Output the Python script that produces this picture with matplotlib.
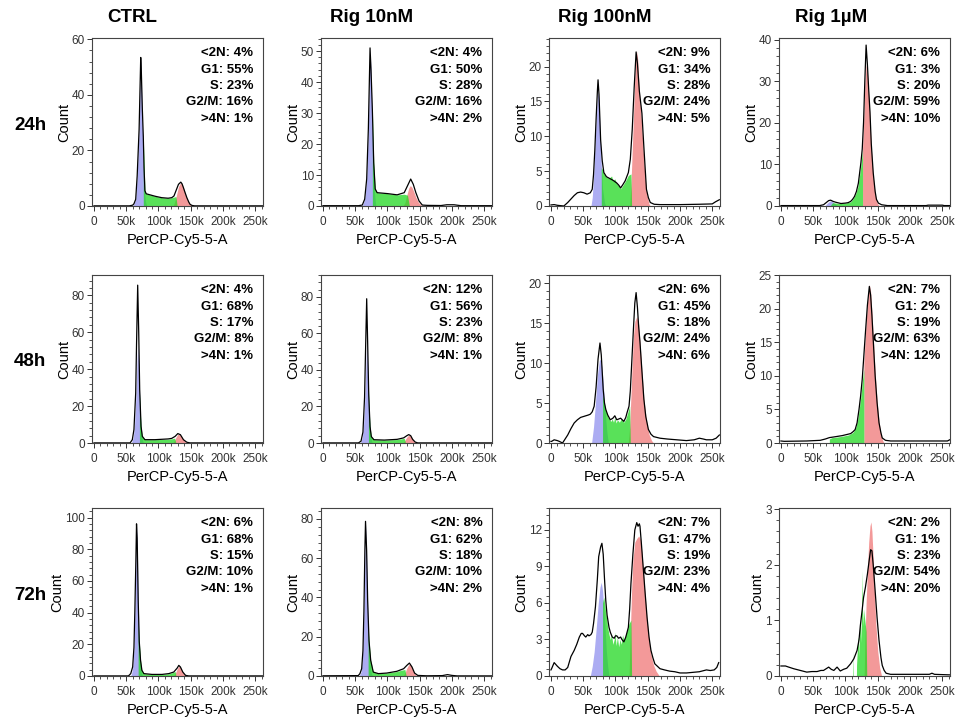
import matplotlib
matplotlib.use("Agg")
import matplotlib.pyplot as plt
from matplotlib.ticker import MultipleLocator, AutoMinorLocator

plt.rcParams["font.family"] = ["Liberation Sans", "DejaVu Sans"]

columns = ["CTRL", "Rig 10nM", "Rig 100nM", "Rig 1µM"]
rows = ["24h", "48h", "72h"]
phase_names = ["<2N", "G1", "S", "G2/M", ">4N"]
x_ticks = [0, 50, 100, 150, 200, 250]
x_tick_labels = ["0", "50k", "100k", "150k", "200k", "250k"]

# phase percentages, same order as phase_names
ctrl_24h_pct = [4, 55, 23, 16, 1]
rig10_24h_pct = [4, 50, 28, 16, 2]
rig100_24h_pct = [9, 34, 28, 24, 5]
rig1u_24h_pct = [6, 3, 20, 59, 10]
ctrl_48h_pct = [4, 68, 17, 8, 1]
rig10_48h_pct = [12, 56, 23, 8, 1]
rig100_48h_pct = [6, 45, 18, 24, 6]
rig1u_48h_pct = [7, 2, 19, 63, 12]
ctrl_72h_pct = [6, 68, 15, 10, 1]
rig10_72h_pct = [8, 62, 18, 10, 2]
rig100_72h_pct = [7, 47, 19, 23, 4]
rig1u_72h_pct = [2, 1, 23, 54, 20]

# histogram traces: (PerCP-Cy5-5-A in thousands, count)
ctrl_24h_line = [(0, 0.05), (55, 0.05), (60, 0.3), (62, 0.8), (64.7, 2.4), (67, 10.8), (70, 27.6),
                 (71.4, 42), (72.5, 53.5), (73.5, 48), (75, 35), (76.5, 25), (77.6, 14), (79, 5.5),
                 (81, 4.4), (84, 4.2), (95, 3.5), (105, 3.0), (115, 2.8), (120.6, 3.0), (124, 3.6),
                 (126, 4.8), (128.5, 6.3), (131, 7.8), (134.6, 8.6), (136.5, 8.0), (138.7, 6.6),
                 (141, 5), (144, 3), (147, 1.4), (149, 0.6), (152, 0.2), (156, 0.05), (262, 0.05)]
ctrl_24h_g1 = [(60, 0), (62, 0.8), (64.7, 2.4), (67, 10.8), (70, 27.6), (71.4, 42), (72.5, 53),
               (73.5, 46), (75, 30), (76.5, 15), (78, 6), (80, 1.5), (82, 0)]
ctrl_24h_s = [(76.5, 0), (76.5, 24), (78, 14), (79, 5.5), (81, 4.4), (84, 4.2), (95, 3.5), (105, 3.0),
              (115, 2.8), (120.6, 3.0), (124, 3.2), (127, 3.4), (129, 0)]
ctrl_24h_g2 = [(123, 0), (125, 1.5), (127, 3), (129, 5), (131, 7), (134.6, 8.5), (137, 7.8),
               (139, 6.4), (141, 4.8), (144, 2.8), (147, 1.3), (150, 0.4), (153, 0)]

rig10_24h_line = [(0, 0.1), (55, 0.1), (61, 0.3), (64.7, 2.2), (67.8, 8.7), (70.4, 25), (72, 41),
                  (73, 51), (74.5, 44), (76.6, 31), (78.7, 14), (81, 5.5), (84, 4.3), (100, 4.0),
                  (115, 3.6), (126, 4.3), (131, 6.5), (136, 8.7), (140, 7), (144, 4.3), (149, 1.6),
                  (154, 0.3), (162, 0.2), (183, 0.15), (192, 0.4), (203, 0.4), (214, 0.1), (262, 0.1)]
rig10_24h_g1 = [(61, 0), (64.7, 2.2), (67.8, 8.7), (70.4, 25), (72, 41), (73, 50.5), (74.5, 44),
                (76, 30), (78, 14), (80, 4), (82, 0)]
rig10_24h_s = [(76.6, 0), (76.6, 31), (78.7, 14), (81, 5.5), (84, 4.3), (100, 4.0), (115, 3.6),
               (126, 3.8), (131, 3.5), (134, 0)]
rig10_24h_g2 = [(124, 0), (127, 1), (130, 3.5), (133, 5.8), (135.5, 6.6), (138, 6), (141, 4.5),
                (144, 2.8), (148, 1.2), (152, 0.3), (155, 0)]

rig100_24h_line = [(0, 0.15), (5, 0.2), (10, 0.1), (20, 0.0), (26, 0.5), (31, 1.0), (36, 1.5),
                   (41, 1.9), (46, 2.0), (51, 1.9), (56, 1.7), (61, 1.9), (64, 2.4), (66, 4.5),
                   (68, 8), (70, 12.5), (72, 16.5), (73, 18.1), (74.5, 16), (77, 9.5), (79.5, 6.5),
                   (82, 4.8), (86, 4.2), (90, 4.0), (96, 3.7), (102, 3.3), (105, 3.0), (108, 2.6),
                   (111, 3.0), (115, 3.6), (120, 4.8), (123, 6.7), (126, 11), (129, 17), (132, 22.1),
                   (134, 20.5), (137, 16.5), (141, 13.3), (144, 8.5), (148, 2.4), (151, 1.2),
                   (154, 0.5), (160, 0.25), (169, 0.2), (200, 0.2), (230, 0.25), (250, 0.3),
                   (255, 0.6), (261, 0.9)]
rig100_24h_g1 = [(62, 0), (64, 1.2), (66, 4), (68, 8), (70, 12), (72, 15.5), (73, 16.5), (74.5, 15),
                 (76, 11), (78, 6), (80, 2.5), (83, 0.5), (85, 0)]
rig100_24h_s = [(78, 0), (78, 5.5), (80, 5.2), (82, 4.6), (86, 4.1), (90, 4.0), (94, 4.3), (96, 3.6),
                (99, 3.9), (102, 3.2), (105, 2.9), (108, 2.5), (111, 2.9), (115, 3.5), (120, 4.4),
                (124, 4.6), (125, 0)]
rig100_24h_g2 = [(122, 0), (124, 3), (126, 8), (128, 13), (130, 18.5), (132.5, 22.3), (134.5, 21),
                 (137, 16.5), (140, 12.5), (143, 8), (146, 4), (149, 1.5), (152, 0.3), (154, 0)]

rig1u_24h_line = [(0, 0.1), (60, 0.1), (66, 0.3), (70, 0.8), (74, 1.3), (77, 1.4), (81, 1.1),
                  (85, 0.9), (93, 0.6), (100, 0.7), (104, 0.8), (108, 1.1), (111, 1.6), (114, 2.3),
                  (117, 3.5), (120, 5.5), (122, 8), (124, 10.5), (126, 13.7), (128, 20), (130, 30),
                  (132, 38.7), (134, 34), (136, 28), (138, 22.6), (140, 15), (143, 8), (146, 3.5),
                  (148, 1.6), (151, 0.7), (156, 0.3), (165, 0.1), (225, 0.1), (228, 0.2),
                  (250, 0.2), (253, 0.1), (262, 0.1)]
rig1u_24h_g1 = [(68, 0), (72, 0.7), (76, 1.2), (79, 1.2), (83, 0.6), (88, 0)]
rig1u_24h_s = [(76, 0), (80, 0.8), (90, 0.6), (100, 0.7), (108, 1.0), (112, 1.8), (116, 3.0),
               (119, 4.5), (122, 7.5), (124, 10), (126.5, 13.5), (126.5, 0)]
rig1u_24h_g2 = [(126.5, 0), (126.5, 14), (128, 19.5), (130, 29), (132, 34), (134, 32), (136, 27),
                (138, 21), (140, 14), (143, 7), (146, 3), (149, 0.8), (152, 0)]

ctrl_48h_line = [(0, 0.05), (56, 0.05), (59.5, 1.8), (62, 7.3), (64.7, 27), (66, 53), (67.8, 85.5),
                 (69.4, 60), (70.9, 29), (73, 9), (75, 3.6), (79, 1.8), (94.7, 1.8), (115, 2.2),
                 (120.6, 2.5), (125.8, 3.6), (130, 5.1), (134, 4.5), (138.7, 1.8), (144, 0.4),
                 (149, 0.05), (262, 0.05)]
ctrl_48h_g1 = [(58, 0), (61, 3), (63, 10), (65, 25), (66.5, 42), (67.8, 53), (69, 45), (70.5, 30),
               (72, 15), (74, 4), (76, 0.5), (78, 0)]
ctrl_48h_s = [(70.5, 0), (70.5, 28), (72, 16), (73, 9), (75, 3.6), (79, 1.8), (95, 1.8), (115, 2.0),
              (121, 2.3), (125, 2.6), (127, 0)]
ctrl_48h_g2 = [(122, 0), (125, 1.5), (127, 3), (130, 4.7), (133, 4.5), (136, 3.2), (139, 1.6),
               (142, 0.5), (145, 0)]

rig10_48h_line = [(0, 0.05), (55, 0.05), (59, 1), (62, 6), (64.5, 25), (66, 50), (67.8, 79),
                  (69.3, 55), (71, 26), (73, 9), (75, 3.5), (79, 1.8), (95, 1.6), (115, 2.0),
                  (125, 2.8), (130, 4), (133, 4.6), (136, 4), (139, 2), (143, 0.5), (147, 0.05),
                  (262, 0.05)]
rig10_48h_g1 = [(58, 0), (61, 3), (63, 10), (65, 25), (66.5, 42), (67.8, 55), (69, 45), (70.5, 30),
                (72, 15), (74, 4), (76, 0.5), (78, 0)]
rig10_48h_s = [(70.5, 0), (70.5, 30), (72, 16), (73, 9), (75, 3.5), (79, 1.8), (95, 1.6), (115, 1.9),
               (122, 2.3), (126, 2.6), (128, 0)]
rig10_48h_g2 = [(124, 0), (127, 1.5), (130, 3.2), (133, 4.3), (136, 3.8), (139, 1.8), (142, 0.5),
                (145, 0)]

rig100_48h_line = [(0, 0.2), (1, 0.2), (5, 0.4), (10, 0.3), (13, 0.2), (18, 0.0), (22, 0.5), (26, 1.0),
                   (31, 1.8), (36, 2.5), (41, 2.9), (46, 3.2), (50, 3.3), (54, 3.4), (58, 3.5),
                   (61, 3.6), (64, 3.9), (67, 4.6), (70, 7), (73, 10.5), (76, 12.5), (78, 11),
                   (81, 6.7), (83, 5), (85, 4.2), (88, 3.5), (92, 2.9), (96, 3.1), (99, 3.4),
                   (102, 2.9), (105, 3.0), (108, 3.1), (113, 2.7), (116, 3.2), (118, 3.8), (121, 4.6),
                   (123, 6.5), (125, 9.7), (128, 14.5), (130, 17.5), (132, 18.8), (134, 17),
                   (136, 14.5), (138, 12.6), (141, 9), (144, 5.5), (147, 3.3), (151, 1.7), (155, 1.1),
                   (159, 0.8), (169, 0.6), (180, 0.5), (195, 0.4), (210, 0.3), (222, 0.4), (230, 0.6),
                   (236, 0.5), (241, 0.4), (250, 0.4), (256, 0.6), (261, 1.0)]
rig100_48h_g1 = [(63, 0), (66, 2), (69, 5), (72, 8.5), (75, 10.3), (77, 10.5), (79, 9.5), (81, 7.5),
                 (83, 5), (85, 3), (87, 1.2), (89, 0)]
rig100_48h_s = [(80, 0), (80, 6), (82, 5.3), (84, 4.4), (86, 3.8), (88, 3.3), (90, 3.0), (93, 2.7),
                (95, 3.0), (97, 2.6), (99, 3.2), (101, 2.5), (103, 2.9), (106, 2.6), (109, 3.0),
                (113, 2.6), (116, 3.0), (119, 3.8), (122, 4.6), (123, 0)]
rig100_48h_g2 = [(120, 0), (122, 2), (124, 6), (126, 10), (128, 13.5), (130, 15.2), (133, 15.8),
                 (136, 14.8), (138, 12.5), (141, 9), (144, 5.5), (148, 2.8), (152, 1.1), (156, 0.3),
                 (159, 0)]

rig1u_48h_line = [(0, 0.3), (5, 0.25), (40, 0.3), (61, 0.4), (69, 0.6), (75, 0.8), (82, 0.9),
                  (95, 1.1), (108, 1.4), (112, 1.7), (115, 2), (118, 3), (121, 5), (123.5, 7),
                  (126, 9.5), (128.5, 13), (131, 16.5), (134, 20.5), (137, 23.3), (139, 22),
                  (141, 19), (143.5, 14.5), (146, 10), (149, 6), (152, 3), (155, 1.5), (157, 0.75),
                  (162, 0.4), (170, 0.3), (258, 0.3), (262, 0.5)]
rig1u_48h_g1 = []
rig1u_48h_s = [(75, 0), (75, 0.6), (79, 0.8), (85, 0.85), (95, 1.0), (105, 1.2), (112, 1.6),
               (116, 2.3), (119, 3.5), (121, 4.8), (124, 7), (126.5, 9.5), (128.5, 11), (128.5, 0)]
rig1u_48h_g2 = [(128.5, 0), (128.5, 12), (131, 16.3), (134, 20.8), (137, 23.6), (139, 22.5),
                (141, 19.5), (143.5, 15), (146, 10.5), (149, 6.3), (152, 3.2), (155, 1.3),
                (158, 0.3), (160, 0)]

ctrl_72h_line = [(0, 0.05), (53.5, 0.05), (57, 1.5), (60, 5.7), (62, 18), (63.4, 41), (65, 73),
                 (66, 96), (67, 87), (68.6, 47.6), (70.2, 22), (72.2, 10), (74.3, 3.6), (77.4, 1.5),
                 (90, 1.0), (105.5, 1.0), (116, 1.5), (123.7, 2.5), (129, 5), (131.5, 6.7),
                 (134, 5.7), (137.7, 2.5), (142, 0.4), (147, 0.05), (262, 0.05)]
ctrl_72h_g1 = [(56, 0), (58, 1), (60, 5), (62, 17), (63.4, 40), (65, 72), (66, 94), (67, 86),
               (68.6, 47), (70, 24), (71.5, 10), (73, 3), (75, 0.5), (77, 0)]
ctrl_72h_s = [(68.5, 0), (68.5, 36), (70.2, 22), (72.2, 10), (74.3, 3.6), (77.4, 1.5), (90, 1.0),
              (105, 1.0), (116, 1.4), (122, 2.2), (126, 2.8), (127, 0)]
ctrl_72h_g2 = [(123, 0), (125, 1), (127, 2.5), (129, 4.5), (131.5, 6.2), (134, 5.5), (136.5, 3.5),
               (139, 1.5), (142, 0.3), (143, 0)]

rig10_72h_line = [(0, 0.1), (54.7, 0.2), (57.3, 1.2), (60, 3.7), (62, 13), (63.5, 33), (65, 64),
                  (66, 78.8), (67.7, 64), (69.3, 38.5), (71.4, 18), (74, 8), (78, 2), (86, 1.2),
                  (99, 1.5), (114.6, 2.4), (125, 3.7), (130, 5.4), (134, 6.6), (138, 4.6),
                  (142, 1.5), (147, 0.3), (161, 0.1), (185, 0.2), (193, 0.7), (200, 0.3),
                  (208, 0.05), (262, 0.05)]
rig10_72h_g1 = [(56, 0), (59, 2), (61, 8), (63, 25), (64.5, 50), (66, 77), (67.5, 64), (69, 40),
                (70.5, 22), (72, 10), (74, 3), (76, 0.5), (78, 0)]
rig10_72h_s = [(70, 0), (70, 26), (71.4, 18), (74, 8), (78, 2), (86, 1.2), (99, 1.5), (114.6, 2.3),
               (122, 3.0), (127, 3.3), (129, 0)]
rig10_72h_g2 = [(124, 0), (127, 1.5), (130, 4), (133, 5.8), (134.5, 6.2), (137, 5), (140, 2.5),
                (143, 0.8), (146, 0)]

rig100_72h_line = [(0, 0.5), (1, 0.6), (5, 1.1), (10, 0.8), (14, 0.6), (18, 0.5), (22, 0.5), (26, 0.7),
                   (31, 1.6), (36, 2.1), (40, 2.6), (44, 3.2), (47, 3.5), (49, 3.5), (52, 3.3),
                   (54, 3.2), (57, 3.4), (59, 3.3), (62, 3.4), (64, 3.6), (66, 4.3), (69, 5.7),
                   (72, 8), (74, 9.8), (77, 10.6), (79, 10.9), (81, 10), (83, 8), (85, 6.2), (87, 5),
                   (90, 4.0), (92, 3.6), (95, 3.2), (98, 3.1), (100, 3.3), (102, 3.3), (105, 3.1),
                   (108, 3.2), (110, 3.0), (113, 2.8), (116, 3.2), (118, 3.6), (120, 4.0), (122, 5.5),
                   (124, 7.6), (127, 10), (130, 12), (133, 12.6), (135, 12.3), (137, 12.5),
                   (138, 12.3), (140, 11), (143, 8.9), (146, 6.8), (149, 4.8), (152, 3.2), (155, 2.1),
                   (158, 1.5), (161, 1.0), (165, 0.8), (169, 0.6), (176, 0.5), (184, 0.4),
                   (192, 0.35), (200, 0.25), (210, 0.25), (220, 0.3), (230, 0.35), (241, 0.5),
                   (247, 0.45), (253, 0.5), (257, 0.7), (260, 1.1)]
rig100_72h_g1 = [(61, 0), (64, 0.8), (67, 2), (70, 3.8), (73, 5.8), (76, 7.3), (78, 7.7), (80, 7),
                 (82, 5.5), (84, 3.8), (86, 2), (88, 0.8), (90, 0)]
rig100_72h_s = [(80, 0), (80, 6), (82, 6.5), (84, 5.6), (86, 4.8), (88, 4.0), (90, 3.4), (92, 3.0),
                (94, 3.4), (96, 2.6), (98, 3.0), (99, 3.6), (101, 2.5), (103, 3.2), (105, 2.4),
                (107, 3.0), (109, 2.6), (111, 3.4), (113, 2.9), (115, 3.3), (117, 3.6), (119, 3.9),
                (121, 4.3), (124, 4.6), (125, 0)]
rig100_72h_g2 = [(121, 0), (123, 3.5), (125, 7), (127, 9.5), (130, 11), (133, 11.3), (136, 11.5),
                 (139, 11.2), (141, 10.2), (143, 8.8), (146, 6.6), (149, 4.6), (152, 3.0),
                 (155, 1.8), (159, 0.9), (163, 0.4), (168, 0)]

rig1u_72h_line = [(0, 0.18), (7, 0.18), (12, 0.16), (20, 0.13), (30, 0.1), (40, 0.07), (48, 0.08),
                  (56, 0.08), (62, 0.1), (66, 0.1), (70, 0.13), (74, 0.16), (78, 0.12), (82, 0.1),
                  (87, 0.16), (92, 0.09), (97, 0.12), (102, 0.14), (108, 0.22), (113, 0.31),
                  (118, 0.46), (121, 0.65), (123, 0.9), (126, 1.2), (128, 1.41), (131, 1.6),
                  (134, 1.83), (137, 2.1), (139, 2.27), (141, 2.25), (143, 2.0), (146, 1.53),
                  (149, 1.05), (152, 0.64), (155, 0.33), (157, 0.19), (160, 0.1), (163, 0.05),
                  (170, 0.03), (230, 0.03), (234, 0.05), (238, 0.03), (262, 0.02)]
rig1u_72h_g1 = []
rig1u_72h_s = [(110, 0), (111, 0), (111.5, 0.45), (112, 0), (117, 0), (117.5, 0.55), (118, 0.2),
               (119, 0.65), (120, 0.7), (121, 0.35), (122, 0.9), (123, 1.0), (124, 0.6), (125, 1.3),
               (126, 1.9), (126.5, 0.9), (128, 1.2), (130, 1.0), (132, 0.8), (133, 0)]
rig1u_72h_g2 = [(129, 0), (130, 0.6), (132, 1.3), (134, 1.9), (136, 2.4), (138, 2.7), (139.5, 2.77),
                (141, 2.6), (143, 2.1), (145, 1.5), (147, 0.95), (150, 0.45), (153, 0.15), (156, 0)]

panels = [
    [(ctrl_24h_line, ctrl_24h_g1, ctrl_24h_s, ctrl_24h_g2, ctrl_24h_pct),
     (rig10_24h_line, rig10_24h_g1, rig10_24h_s, rig10_24h_g2, rig10_24h_pct),
     (rig100_24h_line, rig100_24h_g1, rig100_24h_s, rig100_24h_g2, rig100_24h_pct),
     (rig1u_24h_line, rig1u_24h_g1, rig1u_24h_s, rig1u_24h_g2, rig1u_24h_pct)],
    [(ctrl_48h_line, ctrl_48h_g1, ctrl_48h_s, ctrl_48h_g2, ctrl_48h_pct),
     (rig10_48h_line, rig10_48h_g1, rig10_48h_s, rig10_48h_g2, rig10_48h_pct),
     (rig100_48h_line, rig100_48h_g1, rig100_48h_s, rig100_48h_g2, rig100_48h_pct),
     (rig1u_48h_line, rig1u_48h_g1, rig1u_48h_s, rig1u_48h_g2, rig1u_48h_pct)],
    [(ctrl_72h_line, ctrl_72h_g1, ctrl_72h_s, ctrl_72h_g2, ctrl_72h_pct),
     (rig10_72h_line, rig10_72h_g1, rig10_72h_s, rig10_72h_g2, rig10_72h_pct),
     (rig100_72h_line, rig100_72h_g1, rig100_72h_s, rig100_72h_g2, rig100_72h_pct),
     (rig1u_72h_line, rig1u_72h_g1, rig1u_72h_s, rig1u_72h_g2, rig1u_72h_pct)],
]

y_tops = [[60.5, 54.2, 24.1, 40.4], [91, 92, 21, 25], [106, 85.6, 13.8, 3.02]]
y_steps = [[20, 10, 5, 10], [20, 20, 5, 5], [20, 20, 3, 1]]

W, H = 960, 717
col_left = [92, 321, 549, 779]
row_top = [38, 275, 508]
ax_w, ax_h = 171, 168
title_x = [132, 372, 605, 831]


def fill(ax, pts, color, alpha):
    if not pts:
        return
    xs = [p[0] for p in pts]
    ys = [p[1] for p in pts]
    ax.fill_between(xs, ys, 0, color=color, alpha=alpha, lw=0)


def main():
    fig = plt.figure(figsize=(W / 100, H / 100), dpi=100)

    for r in range(3):
        for c in range(4):
            line, g1, s, g2, pct = panels[r][c]
            ax = fig.add_axes([col_left[c] / W, 1 - (row_top[r] + ax_h) / H, ax_w / W, ax_h / H])
            fill(ax, g1, "#5a5ae6", 0.5)
            fill(ax, g2, "#e83535", 0.5)
            fill(ax, s, "#22d822", 0.75)
            ax.plot([p[0] for p in line], [p[1] for p in line], color="black", lw=0.9)

            ax.set_xlim(-3, 262)
            ax.set_ylim(0, y_tops[r][c])
            ax.set_xticks(x_ticks)
            ax.set_xticklabels(x_tick_labels)
            ax.xaxis.set_minor_locator(MultipleLocator(10))
            ax.yaxis.set_major_locator(MultipleLocator(y_steps[r][c]))
            ax.yaxis.set_minor_locator(AutoMinorLocator(5))
            ax.tick_params(which="major", length=3.5, width=0.7, labelsize=8.5,
                           colors="#333333", pad=1.5)
            ax.tick_params(axis="x", which="major", pad=4)
            ax.tick_params(which="minor", length=2, width=0.6, colors="#333333")
            for sp in ax.spines.values():
                sp.set_color("#444444")
                sp.set_linewidth(0.8)

            ax.set_xlabel("PerCP-Cy5-5-A", fontsize=10.5, labelpad=3.5)
            ax.set_ylabel("Count", fontsize=10.5, labelpad=0.5)

            for i, (name, val) in enumerate(zip(phase_names, pct)):
                ax.annotate(f"{name}: {val}%", xy=(1, 1), xycoords="axes fraction",
                            xytext=(-7, -(11 + i * 11.8)), textcoords="offset points",
                            ha="right", va="center", fontsize=9.5, fontweight="bold")

    for c, name in enumerate(columns):
        fig.text(title_x[c] / W, 1 - 18 / H, name, ha="center", va="center",
                 fontsize=13.5, fontweight="bold")
    for r, name in enumerate(rows):
        fig.text(30 / W, 1 - (row_top[r] + ax_h / 2 + 3) / H, name, ha="center", va="center",
                 fontsize=13.5, fontweight="bold")

    fig.savefig("out.png", dpi=100)


if __name__ == "__main__":
    main()
